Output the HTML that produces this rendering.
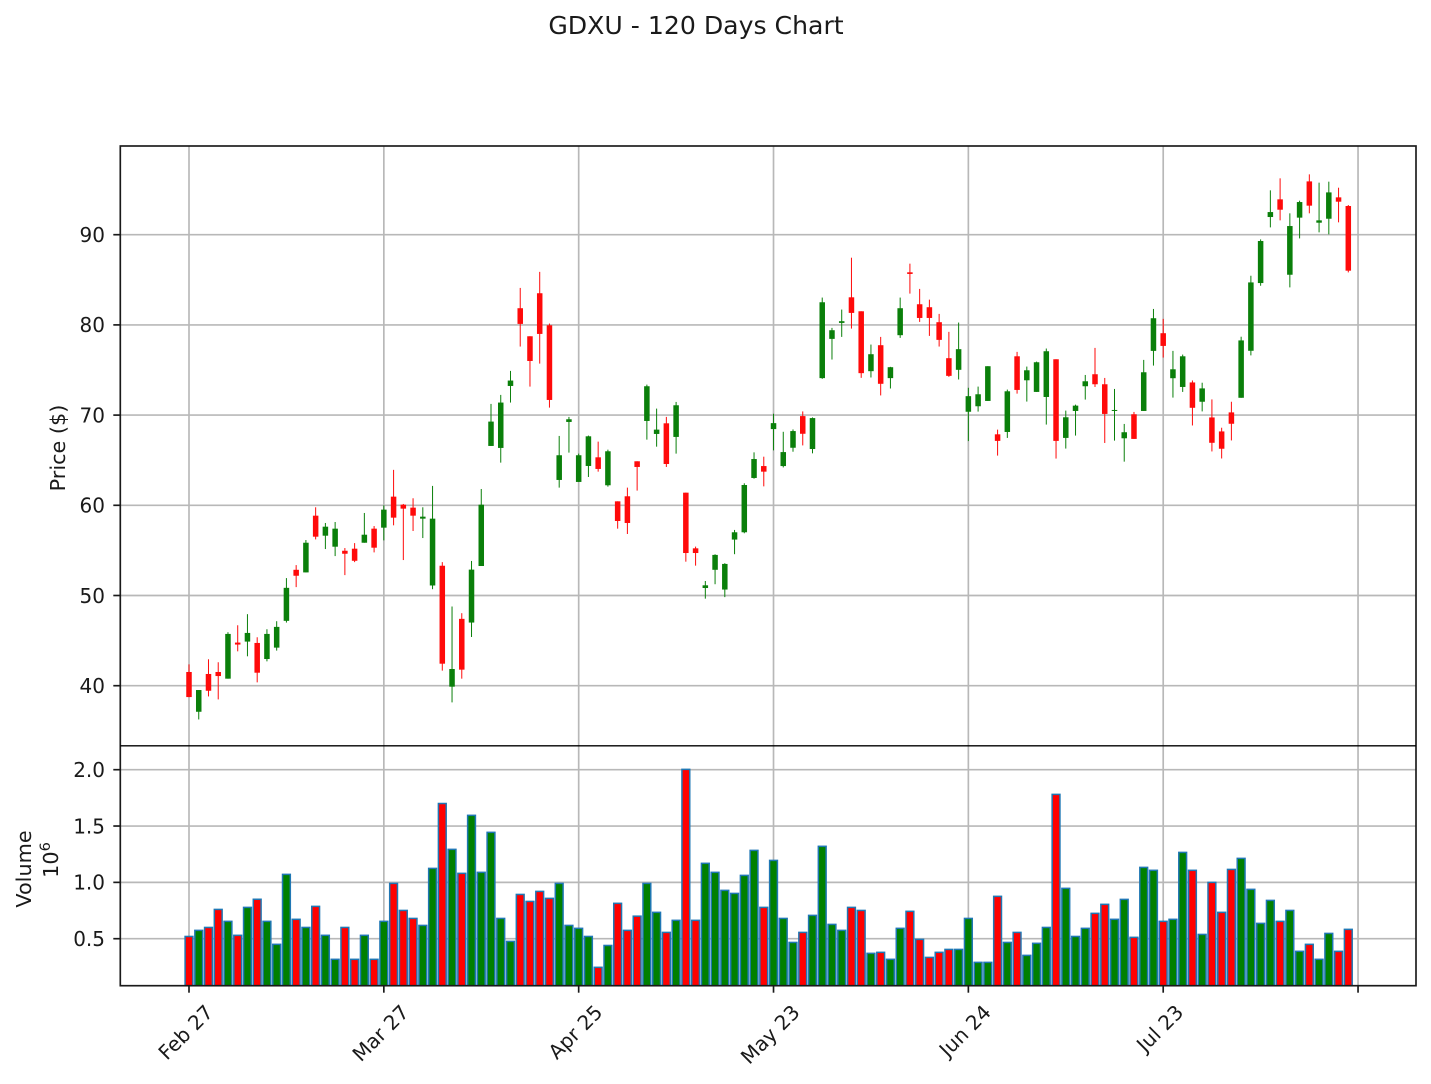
<!DOCTYPE html>
<html lang="en">
<head>
<meta charset="utf-8">
<title>GDXU - 120 Days Chart</title>
<style>
html,body{margin:0;padding:0;background:#fff;width:1431px;height:1084px;overflow:hidden}
svg{display:block}
text{font-family:"DejaVu Sans","Liberation Sans",sans-serif;fill:#1a1a1a}
</style>
</head>
<body>
<svg id="chart" xmlns="http://www.w3.org/2000/svg" width="1431" height="1084" viewBox="0 0 1431 1084"></svg>
<script>
const tickIndices = [0, 20, 40, 60, 80, 100, 120];
const tickLabels = ["Feb 27", "Mar 27", "Apr 25", "May 23", "Jun 24", "Jul 23", ""];
const priceTicks = [40, 50, 60, 70, 80, 90];
const volumeTicks = [0.5, 1.0, 1.5, 2.0];
const opens = [41.52,37.11,41.3,41.52,40.78,44.78,44.89,44.74,42.96,44.22,
47.19,52.85,52.56,58.85,56.63,55.41,54.96,55.19,55.85,57.41,
57.52,60.96,60.07,59.74,58.52,51.11,53.3,39.89,47.41,47,
53.27,66.58,66.36,73.23,81.85,78.74,83.51,79.96,62.81,69.24,
62.59,64.36,65.32,62.22,60.44,61,64.88,69.35,67.91,69.09,
67.58,61.4,55.23,50.83,52.85,50.66,56.2,57.01,63.03,64.35,
68.45,64.35,66.38,69.89,66.24,74.1,78.45,80.22,83.06,81.51,
74.87,77.75,74.1,78.86,85.83,82.29,81.96,80.3,76.31,75.02,
70.37,70.98,71.57,67.87,68.13,76.52,73.86,72.57,72.01,76.19,
67.47,70.46,73.2,74.53,73.42,70.46,67.43,70.09,70.46,77.12,
79.08,74.09,73.12,73.62,71.48,69.74,68.19,70.3,71.92,77.13,
84.64,91.96,93.92,85.56,91.89,95.91,91.33,91.77,94.14,93.18];
const highs = [42.37,39.52,42.93,42.6,45.93,46.7,47.93,45.37,46.26,47.15,
51.93,53.37,56.15,59.78,58.04,58.15,55.26,55.81,59.15,57.7,
60,63.93,60.15,60.78,59.78,62.15,53.7,48.78,48.04,53.83,
61.81,71.24,72.24,74.9,84.1,78.74,85.88,80.15,67.69,69.8,
65.73,67.73,67.06,66.17,60.44,61.96,64.88,73.38,70.72,69.8,
71.46,61.4,55.42,51.61,54.57,53.58,57.27,62.44,65.87,65.39,
70.15,68.15,68.41,70.41,69.74,83.03,79.67,81.7,87.45,81.51,
77.82,78.67,75.35,83.03,86.79,83.99,82.8,81.22,79.23,80.26,
73.03,73.16,75.42,68.39,72.83,77.01,75.38,75.93,77.38,76.19,
70.5,71.16,74.45,77.45,74.12,72.9,69.02,70.35,76.12,81.77,
80.67,77.12,76.71,73.84,73.59,71.74,68.6,71.48,78.69,85.45,
89.48,94.92,96.25,92.37,93.77,96.69,95.77,95.88,95.21,93.29];
const lows = [38.74,36.26,38.81,38.48,40.78,43.81,43.26,40.37,42.7,43.89,
47,50.93,52.56,56.22,55.15,54.37,52.26,53.7,55.85,54.78,
56.11,57.78,53.93,57.15,56.37,50.7,41.67,38.15,40.78,45.4,
53.27,66.58,64.73,71.39,77.6,73.16,75.71,70.83,61.96,65.84,
62.59,63.14,63.73,62.07,57.41,56.82,61.63,67.28,66.5,64.25,
65.73,53.75,53.31,49.65,51.25,49.82,54.58,56.9,62.95,62.1,
66.09,64.2,65.94,66.64,65.76,74.02,76.16,78.67,79.59,74.13,
74.17,72.18,72.95,78.56,83.47,80.33,78.78,77.6,74.24,73.95,
67.12,70.39,71.57,65.51,67.47,72.38,71.5,72.57,68.95,65.18,
66.29,67.73,71.72,73.12,66.91,67.17,64.84,67.36,70.46,75.49,
76.38,71.94,72.57,68.85,70.41,65.97,65.19,67.19,71.92,76.62,
84.34,90.81,91.59,84.16,89.59,92.37,90.26,90.04,91.37,85.82];
const closes = [38.74,39.52,39.44,41.07,45.74,44.56,45.85,41.44,45.74,46.52,
50.85,52.19,55.85,56.52,57.63,57.41,54.63,53.85,56.74,55.3,
59.52,58.63,59.63,58.85,58.74,58.52,42.44,41.85,41.78,52.87,
60.07,69.28,71.39,73.83,80.11,76,79,71.68,65.55,69.54,
65.55,67.65,64.03,65.99,58.26,58.04,64.25,73.2,68.39,64.58,
71.09,54.71,54.71,51.13,54.5,53.5,57.01,62.25,65.13,63.73,
69.11,65.9,68.23,67.93,69.67,82.51,79.41,80.41,81.33,74.65,
76.75,73.47,75.31,81.85,85.65,80.77,80.77,78.34,74.35,77.31,
72.1,72.31,75.42,67.14,72.64,72.79,74.97,75.86,77.08,67.14,
69.76,71.05,73.75,73.42,70.13,70.57,68.1,67.36,74.75,80.74,
77.67,75.08,76.52,70.81,72.96,66.93,66.27,69.04,78.28,84.71,
89.3,92.51,92.77,90.96,93.62,93.22,91.59,94.69,93.66,86.01];
const volumes = [0.52,0.574,0.6,0.76,0.654,0.53,0.778,0.85,0.654,0.45,
1.071,0.672,0.6,0.787,0.53,0.317,0.6,0.317,0.53,0.317,
0.654,0.991,0.751,0.68,0.618,1.124,1.7,1.293,1.08,1.595,
1.089,1.444,0.68,0.476,0.893,0.831,0.92,0.858,0.991,0.618,
0.592,0.52,0.246,0.44,0.814,0.574,0.7,0.991,0.734,0.556,
0.663,2.003,0.663,1.169,1.089,0.929,0.902,1.062,1.284,0.778,
1.195,0.68,0.467,0.556,0.707,1.32,0.627,0.574,0.778,0.751,
0.37,0.379,0.317,0.592,0.743,0.494,0.334,0.379,0.405,0.405,
0.68,0.29,0.29,0.876,0.467,0.556,0.352,0.459,0.6,1.781,
0.947,0.52,0.592,0.725,0.805,0.672,0.849,0.512,1.133,1.107,
0.654,0.672,1.266,1.107,0.538,1.0,0.734,1.115,1.213,0.938,
0.636,0.84,0.654,0.751,0.388,0.45,0.317,0.547,0.388,0.583];

const NS = "http://www.w3.org/2000/svg";
const svg = document.getElementById("chart");
const LEFT = 120.3, RIGHT = 1416, PTOP = 146, MID = 745.8, BOTTOM = 985.7;
const xAxis = i => 189 + 9.742 * i;
const yPrice = p => 685.7 - (p - 40) * 9.02;
const yVolume = v => 938.7 - (v - 0.5) * 112.67;

function mk(tag, attrs, parent) {
  const el = document.createElementNS(NS, tag);
  for (const k in attrs) el.setAttribute(k, attrs[k]);
  (parent || svg).appendChild(el);
  return el;
}

const clipDefs = mk("defs", {});
const clip = mk("clipPath", {id: "vol-clip"}, clipDefs);
mk("rect", {x: LEFT, y: MID, width: RIGHT - LEFT, height: BOTTOM - MID}, clip);

const title = mk("text", {x: 696, y: 34, "text-anchor": "middle", "font-size": 25.15});


title.textContent = "GDXU - 120 Days Chart";

const grid = mk("g", {stroke: "#b8b8b8", "stroke-width": 1.67, fill: "none"});


tickIndices.forEach(t => {
  mk("line", {x1: xAxis(t), x2: xAxis(t), y1: PTOP, y2: BOTTOM}, grid);
});
priceTicks.forEach(p => {
  mk("line", {x1: LEFT, x2: RIGHT, y1: yPrice(p), y2: yPrice(p)}, grid);
});
volumeTicks.forEach(v => {
  mk("line", {x1: LEFT, x2: RIGHT, y1: yVolume(v), y2: yVolume(v)}, grid);
});

const volumeGroup = mk("g", {"clip-path": "url(#vol-clip)"});


volumes.forEach((v, i) => {
  const up = closes[i] >= opens[i];
  const bar = mk("rect", {
    x: xAxis(i) - 3.9, y: yVolume(v), width: 7.8, height: 1000 - yVolume(v),
    fill: up ? "#008000" : "#ff0000", stroke: "#1f77b4", "stroke-width": 1.5
  }, volumeGroup);
  
  
});

const candleGroup = mk("g", {});


opens.forEach((o, i) => {
  const c = closes[i];
  const up = c >= o;
  const col = up ? "#0a7f0a" : "#ff0a0a";
  const g = mk("g", {}, candleGroup);
  
  
  mk("line", {x1: xAxis(i), x2: xAxis(i), y1: yPrice(highs[i]), y2: yPrice(lows[i]), stroke: col, "stroke-width": 1}, g);
  const top = yPrice(Math.max(o, c));
  const h = Math.abs(yPrice(o) - yPrice(c));
  mk("rect", {x: xAxis(i) - 2.75, y: top, width: 5.5, height: Math.max(h, 1), fill: col}, g);
});

const axes = mk("g", {stroke: "#1a1a1a", "stroke-width": 1.67, fill: "none"});


mk("rect", {x: LEFT, y: PTOP, width: RIGHT - LEFT, height: BOTTOM - PTOP}, axes);
const sep = mk("line", {x1: LEFT, x2: RIGHT, y1: MID, y2: MID, stroke: "#000", "stroke-width": 1.3});



tickIndices.forEach((t, k) => {
  const x = xAxis(t);
  const tick = mk("line", {x1: x, x2: x, y1: BOTTOM, y2: BOTTOM + 7, stroke: "#1a1a1a", "stroke-width": 1.67});
  
  
  if (tickLabels[k]) {
    const label = mk("text", {"text-anchor": "middle", "font-size": 20});
    
    
    label.textContent = tickLabels[k];
    const len = label.getComputedTextLength();
    const lx = x - 3.5;
    const ly = 1003 + (len + 15) * 0.3536;
    label.setAttribute("x", lx);
    label.setAttribute("y", ly + 7.3);
    label.setAttribute("transform", `rotate(-45 ${lx} ${ly})`);
  }
});
priceTicks.forEach(p => {
  const y = yPrice(p);
  const tick = mk("line", {x1: LEFT - 7, x2: LEFT, y1: y, y2: y, stroke: "#1a1a1a", "stroke-width": 1.67});
  
  
  const label = mk("text", {x: 105, y: y + 7.3, "text-anchor": "end", "font-size": 20});
  
  
  label.textContent = String(p);
});
volumeTicks.forEach(v => {
  const y = yVolume(v);
  const tick = mk("line", {x1: LEFT - 7, x2: LEFT, y1: y, y2: y, stroke: "#1a1a1a", "stroke-width": 1.67});
  
  
  const label = mk("text", {x: 105, y: y + 7.3, "text-anchor": "end", "font-size": 20});
  
  
  label.textContent = v.toFixed(1);
});

const priceTitle = mk("text", {x: 65, y: 448, "text-anchor": "middle", "font-size": 20.8, transform: "rotate(-90 65 448)"});


priceTitle.textContent = "Price ($)";

const volumeTitle = mk("text", {x: 31, y: 869, "text-anchor": "middle", "font-size": 20.8, transform: "rotate(-90 31 869)"});


volumeTitle.textContent = "Volume";

const expText = mk("text", {x: 58, y: 860, "text-anchor": "middle", "font-size": 20.8, transform: "rotate(-90 58 860)"});


expText.textContent = "10";
const sup = mk("tspan", {"font-size": 14.6, dy: -8}, expText);
sup.textContent = "6";
</script>
</body>
</html>
